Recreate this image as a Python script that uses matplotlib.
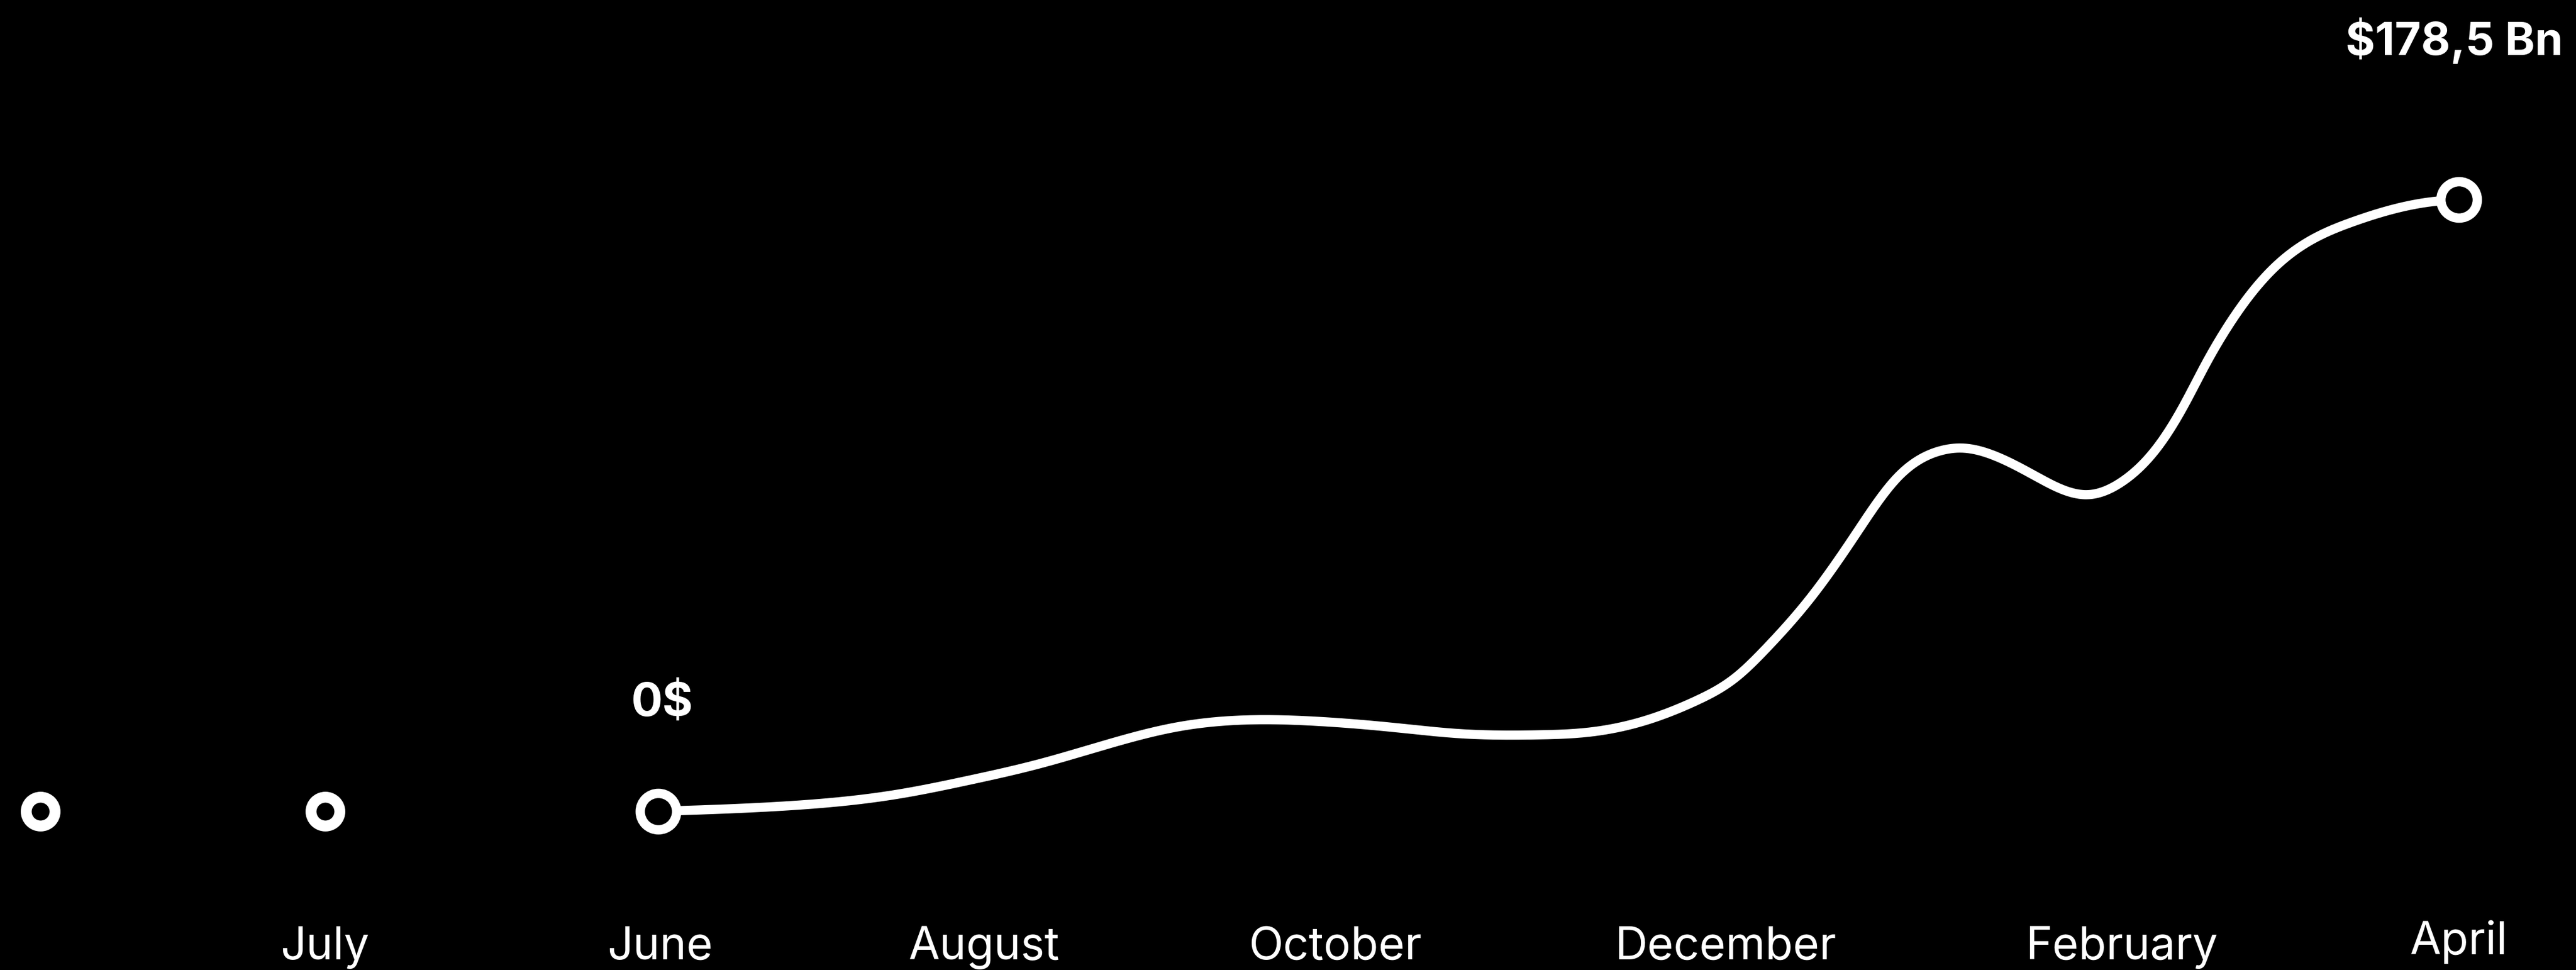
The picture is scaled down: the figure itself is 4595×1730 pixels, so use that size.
import numpy as np
import matplotlib
matplotlib.use("Agg")
import matplotlib.pyplot as plt

# ---------------- data ----------------
# x in month units (June = 0 ... April = 10), values in $ Bn
curve_x = [0.0, 0.72, 1.32, 1.72, 2.12, 2.51, 2.89, 3.29, 3.68, 4.08, 4.47,
           4.87, 5.17, 5.47, 5.77, 5.98, 6.16, 6.40, 6.64, 6.88, 7.12, 7.24, 7.41, 7.65,
           7.94, 8.13, 8.34, 8.48, 8.59, 8.71, 8.83, 8.98, 9.16, 9.41, 9.65, 9.87, 10.0]
curve_y = [0.0, 1.6, 4.9, 9.0, 13.9, 19.8, 24.7, 26.7, 26.2, 24.5, 22.6,
           22.3, 23.1, 26.3, 32.4, 38.9, 47.9, 62.3, 80.0, 97.3, 105.2, 106.0, 104.0, 97.8,
           92.4, 96.2, 107.2, 119.1, 130.1, 140.9, 150.0, 158.9, 166.1, 172.0, 175.9, 178.0, 178.5]

# standalone ring markers at the left (no line)
extra_x = [-3.43, -1.85]
extra_y = [0.0, 0.0]

# highlighted endpoints
end_x = [0.0, 10.0]
end_y = [0.0, 178.5]
end_labels = ["0$", "$178,5 Bn"]

# month labels and their positions
month_labels = ["July", "June", "August", "October", "December", "February", "April"]
month_x = [-1.85, 0.01, 1.81, 3.76, 5.93, 8.13, 10.0]


def natural_spline(x, y, n=30):
    x = np.asarray(x, float)
    y = np.asarray(y, float)
    N = len(x)
    h = np.diff(x)
    A = np.zeros((N, N))
    b = np.zeros(N)
    A[0, 0] = A[-1, -1] = 1.0
    for i in range(1, N - 1):
        A[i, i - 1] = h[i - 1]
        A[i, i] = 2 * (h[i - 1] + h[i])
        A[i, i + 1] = h[i]
        b[i] = 6 * ((y[i + 1] - y[i]) / h[i] - (y[i] - y[i - 1]) / h[i - 1])
    M = np.linalg.solve(A, b)
    xs, ys = [], []
    for i in range(N - 1):
        t = np.linspace(x[i], x[i + 1], n, endpoint=False)
        a = x[i + 1] - t
        c = t - x[i]
        s = (M[i] * a**3 + M[i + 1] * c**3) / (6 * h[i]) \
            + (y[i] / h[i] - M[i] * h[i] / 6) * a \
            + (y[i + 1] / h[i] - M[i + 1] * h[i] / 6) * c
        xs.append(t)
        ys.append(s)
    xs.append([x[-1]])
    ys.append([y[-1]])
    return np.concatenate(xs), np.concatenate(ys)


W, H, DPI = 4595, 1731, 200
fig = plt.figure(figsize=(W / DPI, H / DPI), dpi=DPI, facecolor="black")
ax = fig.add_axes([0, 0, 1, 1])
ax.set_facecolor("black")
ax.set_axis_off()

# pixel mapping: x=0 -> 1174 px, x=10 -> 4386 px ; y=0 -> 1448 px from top, 178.5 -> 357 px
x0px = 1174
pxu = (4386 - x0px) / 10.0
pyu = (1448 - 357) / 178.5
ax.set_xlim(-x0px / pxu, (W - x0px) / pxu)
ax.set_ylim(-(H - 1448) / pyu, 1448 / pyu)

sx, sy = natural_spline(curve_x, curve_y)
ax.plot(sx, sy, color="white", lw=5.9, solid_capstyle="round",
        solid_joinstyle="round", zorder=2)

ax.plot(end_x, end_y, linestyle="none", marker="o", ms=23.4, mew=6.0,
        mec="white", mfc="black", zorder=3)
ax.plot(extra_x, extra_y, linestyle="none", marker="o", ms=18.5, mew=7.0,
        mec="white", mfc="black", zorder=3)

font = "Inter"
# endpoint labels
ax.text(end_x[0] + 0.02, (1448 - 1277) / pyu, end_labels[0], color="white",
        fontsize=30, fontweight="bold", family=font, ha="center", va="baseline")
ax.text((4572 - x0px) / pxu, (1448 - 98) / pyu, end_labels[1], color="white",
        fontsize=29, fontweight="bold", family=font, ha="right", va="baseline")

# month labels (April sits a touch higher in the original)
for lab, mx in zip(month_labels, month_x):
    base = 1702 if lab == "April" else 1711
    ax.text(mx, -(base - 1448) / pyu, lab, color="white", fontsize=29,
            family=font, ha="center", va="baseline")

fig.savefig("out.png", dpi=DPI, facecolor="black")
